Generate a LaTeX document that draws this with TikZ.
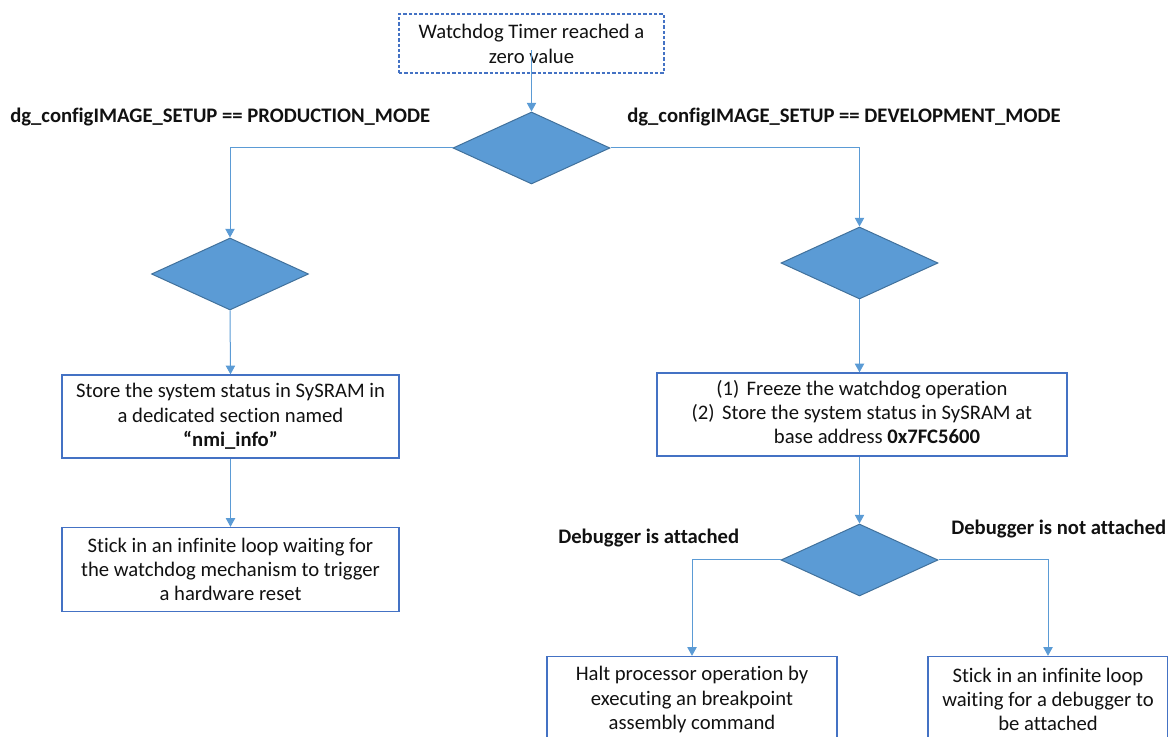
\documentclass[tikz,border=0pt]{standalone}
\usepackage{fontspec}
\setmainfont{Carlito}[Ligatures=NoCommon]
\usetikzlibrary{shapes.geometric,arrows.meta}
\definecolor{lineblue}{HTML}{5B9BD5}
\definecolor{dfill}{HTML}{5B9BD5}
\definecolor{dborder}{HTML}{41719C}
\definecolor{boxblue}{HTML}{4472C4}
\definecolor{txt}{HTML}{111111}
\begin{document}
\begin{tikzpicture}[x=0.75pt,y=-0.75pt,
  every node/.style={font=\fontsize{15.5}{18.2}\selectfont, text=txt},
  dec/.style={diamond, draw=dborder, fill=dfill, line width=0.75pt,
    minimum width=157*0.75pt, minimum height=72*0.75pt, inner sep=0pt},
  proc/.style={draw=boxblue, line width=1pt, align=center, inner sep=0pt},
  conn/.style={draw=lineblue, line width=0.75pt},
  arr/.style={conn, -{Triangle[width=7pt,length=6.5pt]}},
  lbl/.style={font=\fontsize{15.5}{18.2}\selectfont\bfseries, anchor=base west, inner sep=0pt}]
\clip (0,0) rectangle (1168,737);
% nodes
\node[proc, dash pattern=on 2.5pt off 1.5pt, minimum width=265*0.75pt, minimum height=59*0.75pt, font=\fontsize{15.5}{18.8}\selectfont] (start) at (531.5,43.5) {Watchdog Timer reached a\\zero value};
\node[dec] (d1) at (531.5,148) {};
\node[dec] (d2) at (230,274) {};
\node[dec] (d3) at (859.5,263) {};
\node[proc, minimum width=337*0.75pt, minimum height=83*0.75pt] (b1) at (230.5,416.5)
  {Store the system status in SySRAM in\\a dedicated section named\\\textbf{“nmi\_info”}};
\node[proc, minimum width=337*0.75pt, minimum height=84*0.75pt] (b2) at (230.5,569.5)
  {Stick in an infinite loop waiting for\\the watchdog mechanism to trigger\\a hardware reset};
\node[proc, minimum width=410*0.75pt, minimum height=83*0.75pt] (b3) at (862,414.5)
  {\hspace*{22.5pt}\begin{tabular}{@{}c@{}}
   \llap{(1)\hspace{5.5pt}}Freeze the watchdog operation\\
   \llap{(2)\hspace{5.5pt}}Store the system status in SySRAM at\\
   base address \textbf{0x7FC5600}
   \end{tabular}};
\node[dec] (d4) at (859.5,560) {};
\node[proc, minimum width=290*0.75pt, minimum height=86*0.75pt] (b4) at (692,699.5)
  {Halt processor operation by\\executing an breakpoint\\assembly command};
\node[proc, minimum width=240*0.75pt, minimum height=86*0.75pt] (b5) at (1048,699.5)
  {Stick in an infinite loop\\waiting for a debugger to\\be attached};
% labels
\node[lbl] (l1) at (10,123) {dg\_configIMAGE\_SETUP == PRODUCTION\_MODE};
\node[lbl] (l2) at (627,123) {dg\_configIMAGE\_SETUP == DEVELOPMENT\_MODE};
\node[lbl] (l3) at (558,544) {Debugger is attached};
\node[lbl] (l4) at (951,535) {Debugger is not attached};
% connectors
\draw[arr] ([yshift=-4.9pt]start.center) -- (d1.north);
\draw[arr] (d1.west) -| (d2.north);
\draw[arr] (d1.east) -| (d3.north);
\draw[arr] (d2.south) -- (b1.north);
\draw[arr] (b1.south) -- (b2.north);
\draw[arr] (d3.south) -- (d3.south |- b3.north);
\draw[arr] (b3.south -| d4.north) -- (d4.north);
\draw[arr] (d4.west) -| (b4.north);
\draw[arr] (d4.east) -| (b5.north);
\end{tikzpicture}
\end{document}
